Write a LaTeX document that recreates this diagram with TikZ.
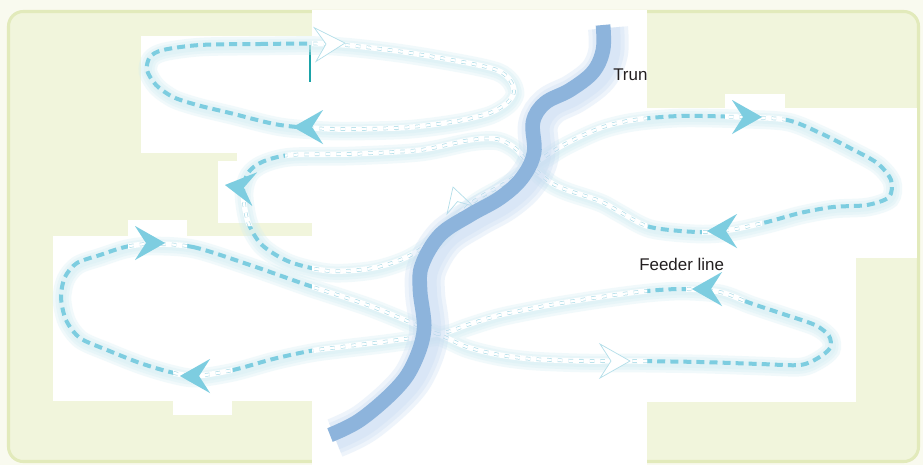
\documentclass[tikz,border=0pt]{standalone}
\usepackage{fontspec}
\setmainfont{Liberation Sans}
\usepackage{xcolor}
\usepackage{tikz}
\usetikzlibrary{positioning}

\definecolor{outerbg}{HTML}{F9FAEF}
\definecolor{panelfill}{HTML}{F1F5DC}
\definecolor{panelline}{HTML}{E2EABB}
\definecolor{flowcyan}{HTML}{7DCDE0}
\definecolor{flowpale}{HTML}{B2DEE9}
\definecolor{flowhalo}{HTML}{D2EEF3}
\definecolor{trunkblue}{HTML}{8DB4DC}
\definecolor{trunkhalo}{HTML}{C4D9F1}
\definecolor{edgeteal}{HTML}{1BA3A8}
\definecolor{labelgray}{HTML}{231F20}

\tikzstyle{panel}    = [fill=panelfill, draw=panelline, line width=2.3pt, rounded corners=11pt]
\tikzstyle{patch}    = [fill=white]
\tikzstyle{flowglow} = [draw=flowhalo, opacity=0.3]
\tikzstyle{flow}     = [draw=flowcyan, line width=3pt, dash pattern=on 6pt off 3.8pt]
\tikzstyle{flowwipe} = [draw=white, line width=4pt]
\tikzstyle{hollow}   = [draw=flowpale, line width=0.55pt, double=white,
                        double distance=1.7pt, dash pattern=on 3.4pt off 4.6pt]
\tikzstyle{tipfill}  = [fill=flowcyan]
\tikzstyle{tipwhite} = [fill=white, draw=flowpale, line width=0.5pt]
\tikzstyle{tipshade} = [fill=flowcyan, opacity=0.25, xshift=2.5pt, yshift=-4pt]
\tikzstyle{tipghost} = [draw=flowpale, line width=0.5pt, scale=0.8]
\tikzstyle{trunk}    = [draw=trunkblue, line width=11pt]
\tikzstyle{trunkglow}= [draw=trunkhalo, opacity=0.28]
\tikzstyle{tag}      = [inner sep=0pt, anchor=base west, text=labelgray,
                        font=\fontsize{12.7pt}{15pt}\selectfont]

% arrow head: tip coordinate, angle, style
\newcommand{\tipmark}[3]{%
  \path[#3, shift={(#1)}, rotate=#2] (0,0) -- (-30,-17) -- (-19,0) -- (-30,17) -- cycle;}

\newcommand{\topflow}{plot[smooth cycle] coordinates {
  (200,45) (260,44) (330,44) (397,51) (463,62) (497,70) (510,80) (514,92)
  (507,103) (490,113) (463,120) (430,125) (397,128) (333,129) (280,125)
  (230,113) (197,105) (173,97) (156,85) (147,70) (150,57) (163,50)}}
\newcommand{\midflow}{plot[smooth cycle] coordinates {
  (243,192) (248,222) (262,245) (290,262) (330,271) (373,268) (407,257)
  (437,237) (473,202) (507,182) (547,155) (567,143) (600,128) (633,120)
  (680,116) (740,117) (787,120) (820,133) (850,148) (877,163) (891,180)
  (889,197) (867,205) (833,207) (800,213) (767,222) (730,230) (697,232)
  (650,227) (620,212) (600,201) (567,190) (550,182) (530,165) (515,148)
  (497,139) (470,140) (420,150) (350,154) (290,155) (262,162) (248,173)}}
\newcommand{\lowflow}{plot[smooth cycle] coordinates {
  (150,244) (193,247) (250,265) (307,285) (373,307) (440,335) (467,347)
  (500,355) (533,359) (583,361) (630,361) (700,362) (760,364) (800,365)
  (818,358) (830,348) (829,336) (815,325) (783,314) (750,303) (720,292)
  (683,289) (647,291) (600,297) (550,305) (500,315) (467,325) (443,333)
  (390,341) (340,347) (310,351) (273,359) (233,370) (195,376) (170,372)
  (140,363) (107,350) (80,338) (66,320) (61,297) (65,277) (77,263)
  (100,255) (125,247)}}
\newcommand{\trunkline}{plot[smooth, tension=0.6] coordinates {
  (603,25) (603,50) (593,72) (570,90) (545,103) (533,122) (534,153)
  (522,178) (500,198) (470,215) (440,235) (422,265) (420,290) (424,330)
  (413,365) (395,390) (360,420) (330,435)}}

\begin{document}
\begin{tikzpicture}[x=0.75pt, y=-0.75pt]
  \useasboundingbox (0,0) rectangle (923,465);
  \fill[outerbg] (0,0) rectangle (923,465);
  \draw[panel] (8.5,11.5) rectangle (918.5,461.5);

  % white patches
  \fill[patch] (312,10) rectangle (647,465);
  \fill[patch] (141,36) rectangle (312,153);
  \fill[patch] (237,150) rectangle (312,162);
  \fill[patch] (218,161) rectangle (312,223);
  \fill[patch] (53,236) rectangle (312,401);
  \fill[patch] (128,220) rectangle (187,281);
  \fill[patch] (173,353) rectangle (232,415);
  \fill[patch] (645,108) rectangle (917,258);
  \fill[patch] (725,94) rectangle (785,156);
  \fill[patch] (702,209) rectangle (762,270);
  \fill[patch] (647,257) rectangle (856,402);

  \draw[edgeteal, line width=0.8pt] (310,45) -- (310,82);

  % flow lines
  \foreach \w in {14,10,6} {
    \draw[flowglow, line width=\w pt, shift={(1,2)}] \topflow;
    \draw[flowglow, line width=\w pt, shift={(1,2)}] \midflow;
    \draw[flowglow, line width=\w pt, shift={(1,2)}] \lowflow;
  }
  \draw[flow] \topflow;
  \draw[flow] \midflow;
  \draw[flow] \lowflow;

  \begin{scope}
    \clip (312,0) rectangle (647,465)
          (128,220) rectangle (187,281)
          (173,353) rectangle (232,415)
          (686,269) rectangle (744,329)
          (702,209) rectangle (762,262)
          (725,94) rectangle (785,156)
          (218,195) rectangle (312,226)
          (285,140) rectangle (312,170);
    \draw[flowwipe] \topflow;
    \draw[flowwipe] \midflow;
    \draw[flowwipe] \lowflow;
    \draw[hollow] \topflow;
    \draw[hollow] \midflow;
    \draw[hollow] \lowflow;
  \end{scope}

  % arrow heads
  \coordinate (tipA) at (345,43);
  \coordinate (tipB) at (293,127);
  \coordinate (tipC) at (225,185);
  \coordinate (tipD) at (762,117);
  \coordinate (tipE) at (707,231);
  \coordinate (tipF) at (165,243);
  \coordinate (tipG) at (180,376);
  \coordinate (tipH) at (630,361);
  \coordinate (tipK) at (692,289);
  \coordinate (tipL) at (453,187);

  \tipmark{tipA}{3}{tipshade}
  \tipmark{tipB}{180}{tipshade}
  \tipmark{tipC}{172}{tipshade}
  \tipmark{tipD}{0}{tipshade}
  \tipmark{tipE}{180}{tipshade}
  \tipmark{tipF}{0}{tipshade}
  \tipmark{tipG}{180}{tipshade}
  \tipmark{tipH}{0}{tipshade}
  \tipmark{tipK}{180}{tipshade}

  \tipmark{tipA}{3}{tipwhite}
  \tipmark{tipB}{180}{tipfill}
  \tipmark{tipC}{172}{tipfill}
  \tipmark{tipD}{0}{tipfill}
  \tipmark{tipE}{180}{tipfill}
  \tipmark{tipF}{0}{tipfill}
  \tipmark{tipG}{180}{tipfill}
  \tipmark{tipH}{0}{tipwhite}
  \tipmark{tipK}{180}{tipfill}
  \tipmark{tipL}{107}{tipghost}

  % trunk
  \foreach \w in {30,24,18} {
    \draw[trunkglow, line width=\w pt, shift={(5,3)}] \trunkline;
  }
  \draw[trunk] \trunkline;

  \node[tag] (trun) at (613,80) {Trun};
  \node[tag] (feeder) at (639,270) {Feeder line};
\end{tikzpicture}
\end{document}
